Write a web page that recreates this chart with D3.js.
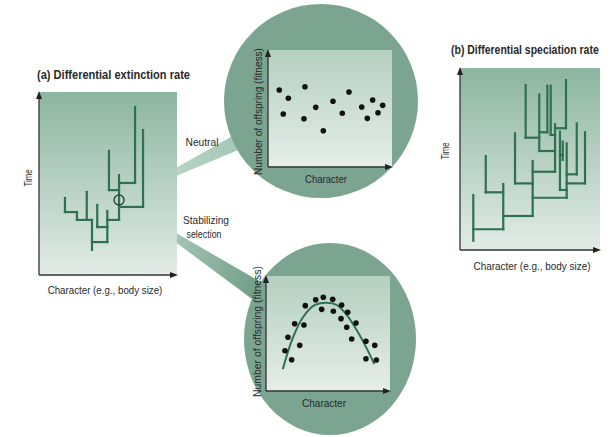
<!DOCTYPE html>
<html>
<head>
<meta charset="utf-8">
<script src="https://cdn.jsdelivr.net/npm/d3@7"></script>
<style>
body { margin: 0; background: #fff; }
svg { display: block; }
text { font-family: "Liberation Sans", Arial, sans-serif; fill: #2a2a2a; }
</style>
</head>
<body>
<svg id="chart" width="611" height="437"></svg>
<script>
// (a) tree, in character / time units (0-10)
// stems: [character, time start, time end]   links: [time, character from, character to]
var extinctionStems = [[1.88, 4.21, 3.44], [2.75, 3.44, 3.01], [3.46, 4.54, 3.01], [3.84, 3.01, 1.37],
    [4.22, 3.83, 2.62], [4.95, 3.50, 1.80], [5.80, 5.46, 3.01], [5.07, 6.78, 4.64],
    [6.96, 9.18, 5.03], [7.54, 7.92, 3.72]]
var extinctionLinks = [[3.44, 1.88, 2.75], [3.01, 2.75, 3.84], [1.80, 3.84, 4.95], [2.62, 4.22, 4.95],
    [3.01, 4.95, 5.80], [4.64, 5.07, 5.80], [5.03, 5.80, 6.96], [3.72, 5.80, 7.54]]
var zoomPoint = [5.80, 4.10]

// (b) tree
var speciationStems = [[0.95, 3.02, 0.51], [3.09, 3.63, 1.14], [1.84, 5.16, 3.17], [5.19, 4.89, 1.87],
    [3.93, 6.41, 3.66], [6.79, 6.91, 4.30], [4.69, 9.07, 6.17], [5.66, 8.55, 5.44],
    [6.24, 9.03, 6.47], [6.48, 9.03, 6.32], [7.57, 9.34, 6.69], [7.14, 6.50, 3.30],
    [7.34, 5.95, 4.95], [7.62, 5.86, 2.87], [8.34, 6.96, 4.16], [8.93, 6.47, 3.66]]
var speciationLinks = [[1.14, 0.95, 3.09], [3.17, 1.84, 3.09], [1.87, 3.09, 5.19], [3.66, 3.93, 5.19],
    [4.30, 5.19, 6.79], [2.87, 5.19, 7.62], [6.17, 4.69, 5.66], [5.44, 5.66, 6.79],
    [6.47, 5.66, 6.24], [6.32, 6.48, 6.79], [6.69, 6.79, 7.57], [5.22, 7.14, 7.34],
    [4.16, 7.62, 8.34], [3.66, 7.62, 8.93], [3.30, 7.14, 7.62]]

// neutral: character vs number of offspring
var neutralCharacter = [0.91, 1.64, 1.23, 2.98, 2.90, 3.85, 4.46, 5.24, 5.99, 6.53, 7.56, 8.01, 8.44, 8.87, 9.25]
var neutralFitness = [6.58, 5.87, 4.53, 6.86, 4.13, 5.10, 3.10, 5.62, 4.59, 6.41, 5.13, 4.16, 5.73, 4.64, 5.27]

// stabilizing selection
var stabilizingCharacter = [1.53, 1.77, 2.07, 2.31, 2.72, 3.06, 3.17, 4.01, 4.49, 4.62, 5.38,
    5.43, 6.10, 6.05, 6.59, 6.51, 7.26, 6.91, 8.06, 8.77, 8.06, 8.90]
var stabilizingFitness = [3.50, 4.67, 2.72, 5.85, 3.97, 5.74, 7.42, 7.94, 7.10, 8.15, 7.97,
    6.93, 7.48, 6.29, 6.84, 5.54, 5.91, 4.52, 4.32, 3.97, 2.81, 2.70]
var curveCharacter = [1.35, 2.20, 3.01, 3.95, 4.90, 5.70, 6.51, 7.31, 8.12, 8.73]
var curveFitness = [1.89, 4.72, 6.46, 7.48, 7.68, 7.48, 6.61, 5.30, 3.71, 2.35]

var treeColor = '#2e7050'
var svg = d3.select('#chart')
var defs = svg.append('defs')

function vGradient(id, top, bottom) {
    var g = defs.append('linearGradient').attr('id', id)
        .attr('x1', 0).attr('y1', 0).attr('x2', 0).attr('y2', 1)
    g.append('stop').attr('offset', 0).attr('stop-color', top)
    g.append('stop').attr('offset', 1).attr('stop-color', bottom)
}
vGradient('panelFill', '#8cb5a1', '#e2ece6')
vGradient('innerFill', '#b4cfc0', '#e6eee9')

function arrowAxes(x, y) {
    var x0 = x.range()[0], x1 = x.range()[1], y0 = y.range()[0], y1 = y.range()[1]
    var g = svg.append('g').attr('stroke', '#333').attr('stroke-width', 1.3)
    g.append('line').attr('x1', x0).attr('y1', y0).attr('x2', x0).attr('y2', y1 + 4)
    g.append('line').attr('x1', x0).attr('y1', y0).attr('x2', x1 - 4).attr('y2', y0)
    g.append('path').attr('stroke', 'none').attr('fill', '#222')
        .attr('d', 'M' + x0 + ',' + (y1 - 1) + 'l-3,8h6z')
    g.append('path').attr('stroke', 'none').attr('fill', '#222')
        .attr('d', 'M' + (x1 + 1) + ',' + y0 + 'l-8,-3v6z')
}

function drawTree(x, y, stems, links) {
    var g = svg.append('g').attr('stroke', treeColor).attr('stroke-width', 2.2)
        .attr('stroke-linecap', 'square')
    g.selectAll('.stem').data(stems).enter().append('line')
        .attr('x1', function (d) { return x(d[0]) }).attr('x2', function (d) { return x(d[0]) })
        .attr('y1', function (d) { return y(d[1]) }).attr('y2', function (d) { return y(d[2]) })
    g.selectAll('.link').data(links).enter().append('line')
        .attr('y1', function (d) { return y(d[0]) }).attr('y2', function (d) { return y(d[0]) })
        .attr('x1', function (d) { return x(d[1]) }).attr('x2', function (d) { return x(d[2]) })
}

function panel(x, y, fill) {
    svg.append('rect').attr('x', x.range()[0]).attr('y', y.range()[1])
        .attr('width', x.range()[1] - x.range()[0]).attr('height', y.range()[0] - y.range()[1])
        .attr('fill', 'url(#' + fill + ')')
}

// text squeezed (scaled along its baseline) to the width it has in the original
function label(txt, px, py, len, opts) {
    opts = opts || {}
    var t = svg.append('text').text(txt).attr('font-size', opts.size || 11)
        .attr('text-anchor', opts.anchor || 'middle')
    if (opts.bold) t.attr('font-weight', 'bold')
    var k = len / t.node().getComputedTextLength()
    t.attr('transform', 'translate(' + px + ',' + py + ')' + (opts.rotate ? ' rotate(-90)' : '') +
        ' scale(' + k.toFixed(3) + ',1)')
    return t
}

// scales
var xA = d3.scaleLinear().domain([0, 10]).range([39, 177])
var yA = d3.scaleLinear().domain([0, 10]).range([275, 92])
var xB = d3.scaleLinear().domain([0, 10]).range([460, 600])
var yB = d3.scaleLinear().domain([0, 10]).range([250, 68])
var xN = d3.scaleLinear().domain([0, 10]).range([268, 392])
var yN = d3.scaleLinear().domain([0, 10]).range([167, 50])
var xS = d3.scaleLinear().domain([0, 10]).range([266, 390])
var yS = d3.scaleLinear().domain([0, 10]).range([391, 276])

var neutralBubble = { cx: 321, cy: 101, rx: 97, ry: 97 }
var stabilizingBubble = { cx: 330, cy: 339, rx: 86, ry: 96 }
var bubbleColor = '#7ba491'

// wedges from the ringed point to each bubble
var apex = [xA(zoomPoint[0]), yA(zoomPoint[1])]
;[neutralBubble, stabilizingBubble].forEach(function (b) {
    var dx = b.cx - apex[0], dy = b.cy - apex[1]
    var len = Math.sqrt(dx * dx + dy * dy), ang = Math.atan2(dy, dx), half = 0.058
    var pts = [apex,
        [apex[0] + len * Math.cos(ang - half), apex[1] + len * Math.sin(ang - half)],
        [apex[0] + len * Math.cos(ang + half), apex[1] + len * Math.sin(ang + half)]]
    var gid = 'wedge' + b.cy
    var g = defs.append('linearGradient').attr('id', gid).attr('gradientUnits', 'userSpaceOnUse')
        .attr('x1', apex[0]).attr('y1', apex[1]).attr('x2', b.cx - b.rx * Math.cos(ang)).attr('y2', b.cy - b.ry * Math.sin(ang))
    g.append('stop').attr('offset', 0).attr('stop-color', '#c8e0d2')
    g.append('stop').attr('offset', 1).attr('stop-color', b.cy > 200 ? '#719f88' : '#a6c8b6')
    svg.append('path').attr('d', d3.line()(pts) + 'Z').attr('fill', 'url(#' + gid + ')')
    svg.append('ellipse').attr('cx', b.cx).attr('cy', b.cy).attr('rx', b.rx).attr('ry', b.ry)
        .attr('fill', bubbleColor)
})

// panel (a)
panel(xA, yA, 'panelFill')
drawTree(xA, yA, extinctionStems, extinctionLinks)
svg.append('circle').attr('cx', apex[0]).attr('cy', apex[1]).attr('r', 5)
    .attr('fill', 'none').attr('stroke', '#1f3b2e').attr('stroke-width', 1.3)
arrowAxes(xA, yA)
label('(a) Differential extinction rate', 37, 79, 153, { size: 12.5, bold: true, anchor: 'start' })
label('Time', 32, 178, 17, { rotate: true })
label('Character (e.g., body size)', 105, 294, 115)

// panel (b)
panel(xB, yB, 'panelFill')
drawTree(xB, yB, speciationStems, speciationLinks)
arrowAxes(xB, yB)
label('(b) Differential speciation rate', 451, 54, 148, { size: 12.5, bold: true, anchor: 'start' })
label('Time', 449, 151, 17, { rotate: true })
label('Character (e.g., body size)', 532, 270, 117)

// middle labels
label('Neutral', 202, 146, 33)
label('Stabilizing', 206, 224, 46)
label('selection', 204, 238, 35)

// neutral plot
panel(xN, yN, 'innerFill')
arrowAxes(xN, yN)
svg.append('g').selectAll('circle').data(neutralCharacter).enter().append('circle')
    .attr('cx', function (d) { return xN(d) })
    .attr('cy', function (d, i) { return yN(neutralFitness[i]) })
    .attr('r', 2.8).attr('fill', '#111')
label('Character', 326, 183, 42)
label('Number of offspring (fitness)', 262, 111.5, 127, { rotate: true, size: 10.5 })

// stabilizing plot
panel(xS, yS, 'innerFill')
arrowAxes(xS, yS)
var curvePts = curveCharacter.map(function (c, i) { return [xS(c), yS(curveFitness[i])] })
svg.append('path').attr('d', d3.line().curve(d3.curveCatmullRom)(curvePts))
    .attr('fill', 'none').attr('stroke', treeColor).attr('stroke-width', 2)
svg.append('g').selectAll('circle').data(stabilizingCharacter).enter().append('circle')
    .attr('cx', function (d) { return xS(d) })
    .attr('cy', function (d, i) { return yS(stabilizingFitness[i]) })
    .attr('r', 2.8).attr('fill', '#111')
label('Character', 324, 407, 44)
label('Number of offspring (fitness)', 261, 331.5, 131, { rotate: true, size: 10.5 })
</script>
</body>
</html>
